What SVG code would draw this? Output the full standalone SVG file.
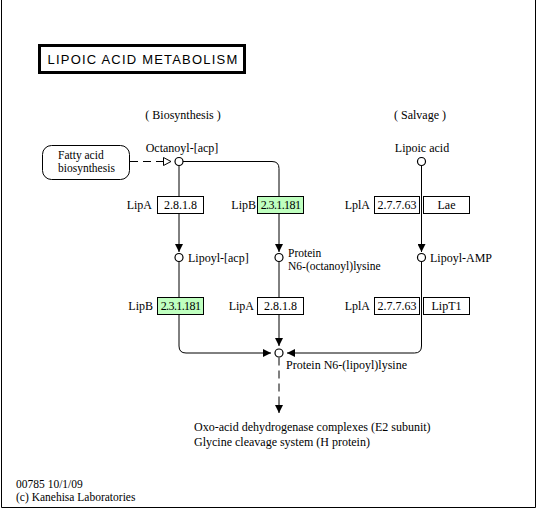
<svg xmlns="http://www.w3.org/2000/svg" width="537" height="509" viewBox="0 0 537 509">
<style>
text { font-family: "Liberation Serif", "Times New Roman", serif; font-size: 12px; fill: #000; }
.c { text-anchor: middle; }
.r { text-anchor: end; }
.two { font-size: 11.5px; }
.box { fill: #fff; stroke: #000; stroke-width: 1; }
.green { fill: #bfffbf; stroke: #000; stroke-width: 1; }
.node { fill: #fff; stroke: #000; stroke-width: 1.2; }
.line { fill: none; stroke: #000; stroke-width: 1; }
.dash { fill: none; stroke: #000; stroke-width: 1; stroke-dasharray: 8 5; }
.ec { letter-spacing: -0.6px; }
</style>
<defs>
<marker id="arr" viewBox="0 0 8 8" refX="8" refY="4" markerWidth="8" markerHeight="8" markerUnits="userSpaceOnUse" orient="auto">
<path d="M0,0 L8,4 L0,8 Z" fill="#000"/>
</marker>
<marker id="open" viewBox="0 0 9 9" refX="8" refY="4.5" markerWidth="9" markerHeight="9" markerUnits="userSpaceOnUse" orient="auto">
<path d="M0.5,0.5 L8,4.5 L0.5,8.5 Z" fill="#fff" stroke="#000" stroke-width="1"/>
</marker>
</defs>
<rect x="0" y="0" width="537" height="509" fill="#fff"/>
<path d="M1.5,0 V507.5 H535.5 V0" class="line"/>

<g id="title">
<rect x="39.5" y="45.5" width="205" height="27" fill="#fff" stroke="#000" stroke-width="3"/>
<text x="143" y="64" class="c" style="font-family:'Liberation Sans',Arial,sans-serif;font-size:13px;letter-spacing:1.2px">LIPOIC ACID METABOLISM</text>
</g>

<g id="section-labels">
<text x="183" y="119" class="c">( Biosynthesis )</text>
<text x="420" y="119" class="c">( Salvage )</text>
</g>

<g id="connectors">
<path d="M130,161.5 H171" class="dash" marker-end="url(#open)"/>
<path d="M183,161.5 H272 Q279,161.5 279,168.5 V252" class="line" marker-end="url(#arr)"/>
<path d="M179,165.5 V252" class="line" marker-end="url(#arr)"/>
<path d="M421.5,166 V252" class="line" marker-end="url(#arr)"/>
<path d="M179,261.5 V346 Q179,353 186,353 H271" class="line" marker-end="url(#arr)"/>
<path d="M279,261.5 V346" class="line" marker-end="url(#arr)"/>
<path d="M421.5,261.5 V346 Q421.5,353 414.5,353 H287" class="line" marker-end="url(#arr)"/>
<path d="M279,357.5 V404" class="dash"/>
<path d="M279,404 V413" class="line" marker-end="url(#arr)"/>
</g>

<g id="fatty-acid-biosynthesis">
<rect x="42.5" y="145.5" width="87" height="34" rx="9" ry="9" class="box"/>
<text x="58" y="158.5" class="two">Fatty acid</text>
<text x="58" y="171.5" class="two">biosynthesis</text>
</g>

<g id="octanoyl-acp">
<circle cx="179" cy="161.5" r="4" class="node"/>
<text x="182" y="152" class="c">Octanoyl-[acp]</text>
</g>

<g id="lipoic-acid">
<circle cx="421.5" cy="161.5" r="4" class="node"/>
<text x="422" y="152" class="c">Lipoic acid</text>
</g>

<g id="lipoyl-acp">
<circle cx="179" cy="257.5" r="4" class="node"/>
<text x="188" y="262">Lipoyl-[acp]</text>
</g>

<g id="protein-octanoyl">
<circle cx="279" cy="257.5" r="4" class="node"/>
<text x="288" y="256.5" class="two">Protein</text>
<text x="288" y="269.5" class="two">N6-(octanoyl)lysine</text>
</g>

<g id="lipoyl-amp">
<circle cx="421.5" cy="257.5" r="4" class="node"/>
<text x="430" y="262">Lipoyl-AMP</text>
</g>

<g id="protein-lipoyl">
<circle cx="279" cy="353" r="4" class="node"/>
<text x="286" y="369">Protein N6-(lipoyl)lysine</text>
</g>

<g id="products">
<text x="194" y="431">Oxo-acid dehydrogenase complexes (E2 subunit)</text>
<text x="194" y="446">Glycine cleavage system (H protein)</text>
</g>

<g id="enz-lipA-1">
<text x="152" y="209" class="r">LipA</text>
<rect x="157.5" y="196.5" width="46" height="17" class="box"/>
<text x="180.5" y="209" class="c">2.8.1.8</text>
</g>
<g id="enz-lipB-1">
<text x="256" y="209" class="r">LipB</text>
<rect x="257.5" y="196.5" width="46" height="17" class="green"/>
<text x="280.5" y="209" class="c ec">2.3.1.181</text>
</g>
<g id="enz-lplA-1">
<text x="370" y="209" class="r">LplA</text>
<rect x="374.5" y="196.5" width="45" height="17" class="box"/>
<text x="397" y="209" class="c">2.7.7.63</text>
<rect x="423.5" y="196.5" width="46" height="17" class="box"/>
<text x="446.5" y="209" class="c">Lae</text>
</g>

<g id="enz-lipB-2">
<text x="153" y="310" class="r">LipB</text>
<rect x="157.5" y="297.5" width="46" height="17" class="green"/>
<text x="180.5" y="310" class="c ec">2.3.1.181</text>
</g>
<g id="enz-lipA-2">
<text x="254" y="310" class="r">LipA</text>
<rect x="257.5" y="297.5" width="46" height="17" class="box"/>
<text x="280.5" y="310" class="c">2.8.1.8</text>
</g>
<g id="enz-lplA-2">
<text x="370" y="310" class="r">LplA</text>
<rect x="374.5" y="297.5" width="45" height="17" class="box"/>
<text x="397" y="310" class="c">2.7.7.63</text>
<rect x="423.5" y="297.5" width="46" height="17" class="box"/>
<text x="446.5" y="310" class="c">LipT1</text>
</g>

<g id="footer">
<text x="16" y="488" class="two">00785 10/1/09</text>
<text x="16" y="501" class="two">(c) Kanehisa Laboratories</text>
</g>
</svg>
